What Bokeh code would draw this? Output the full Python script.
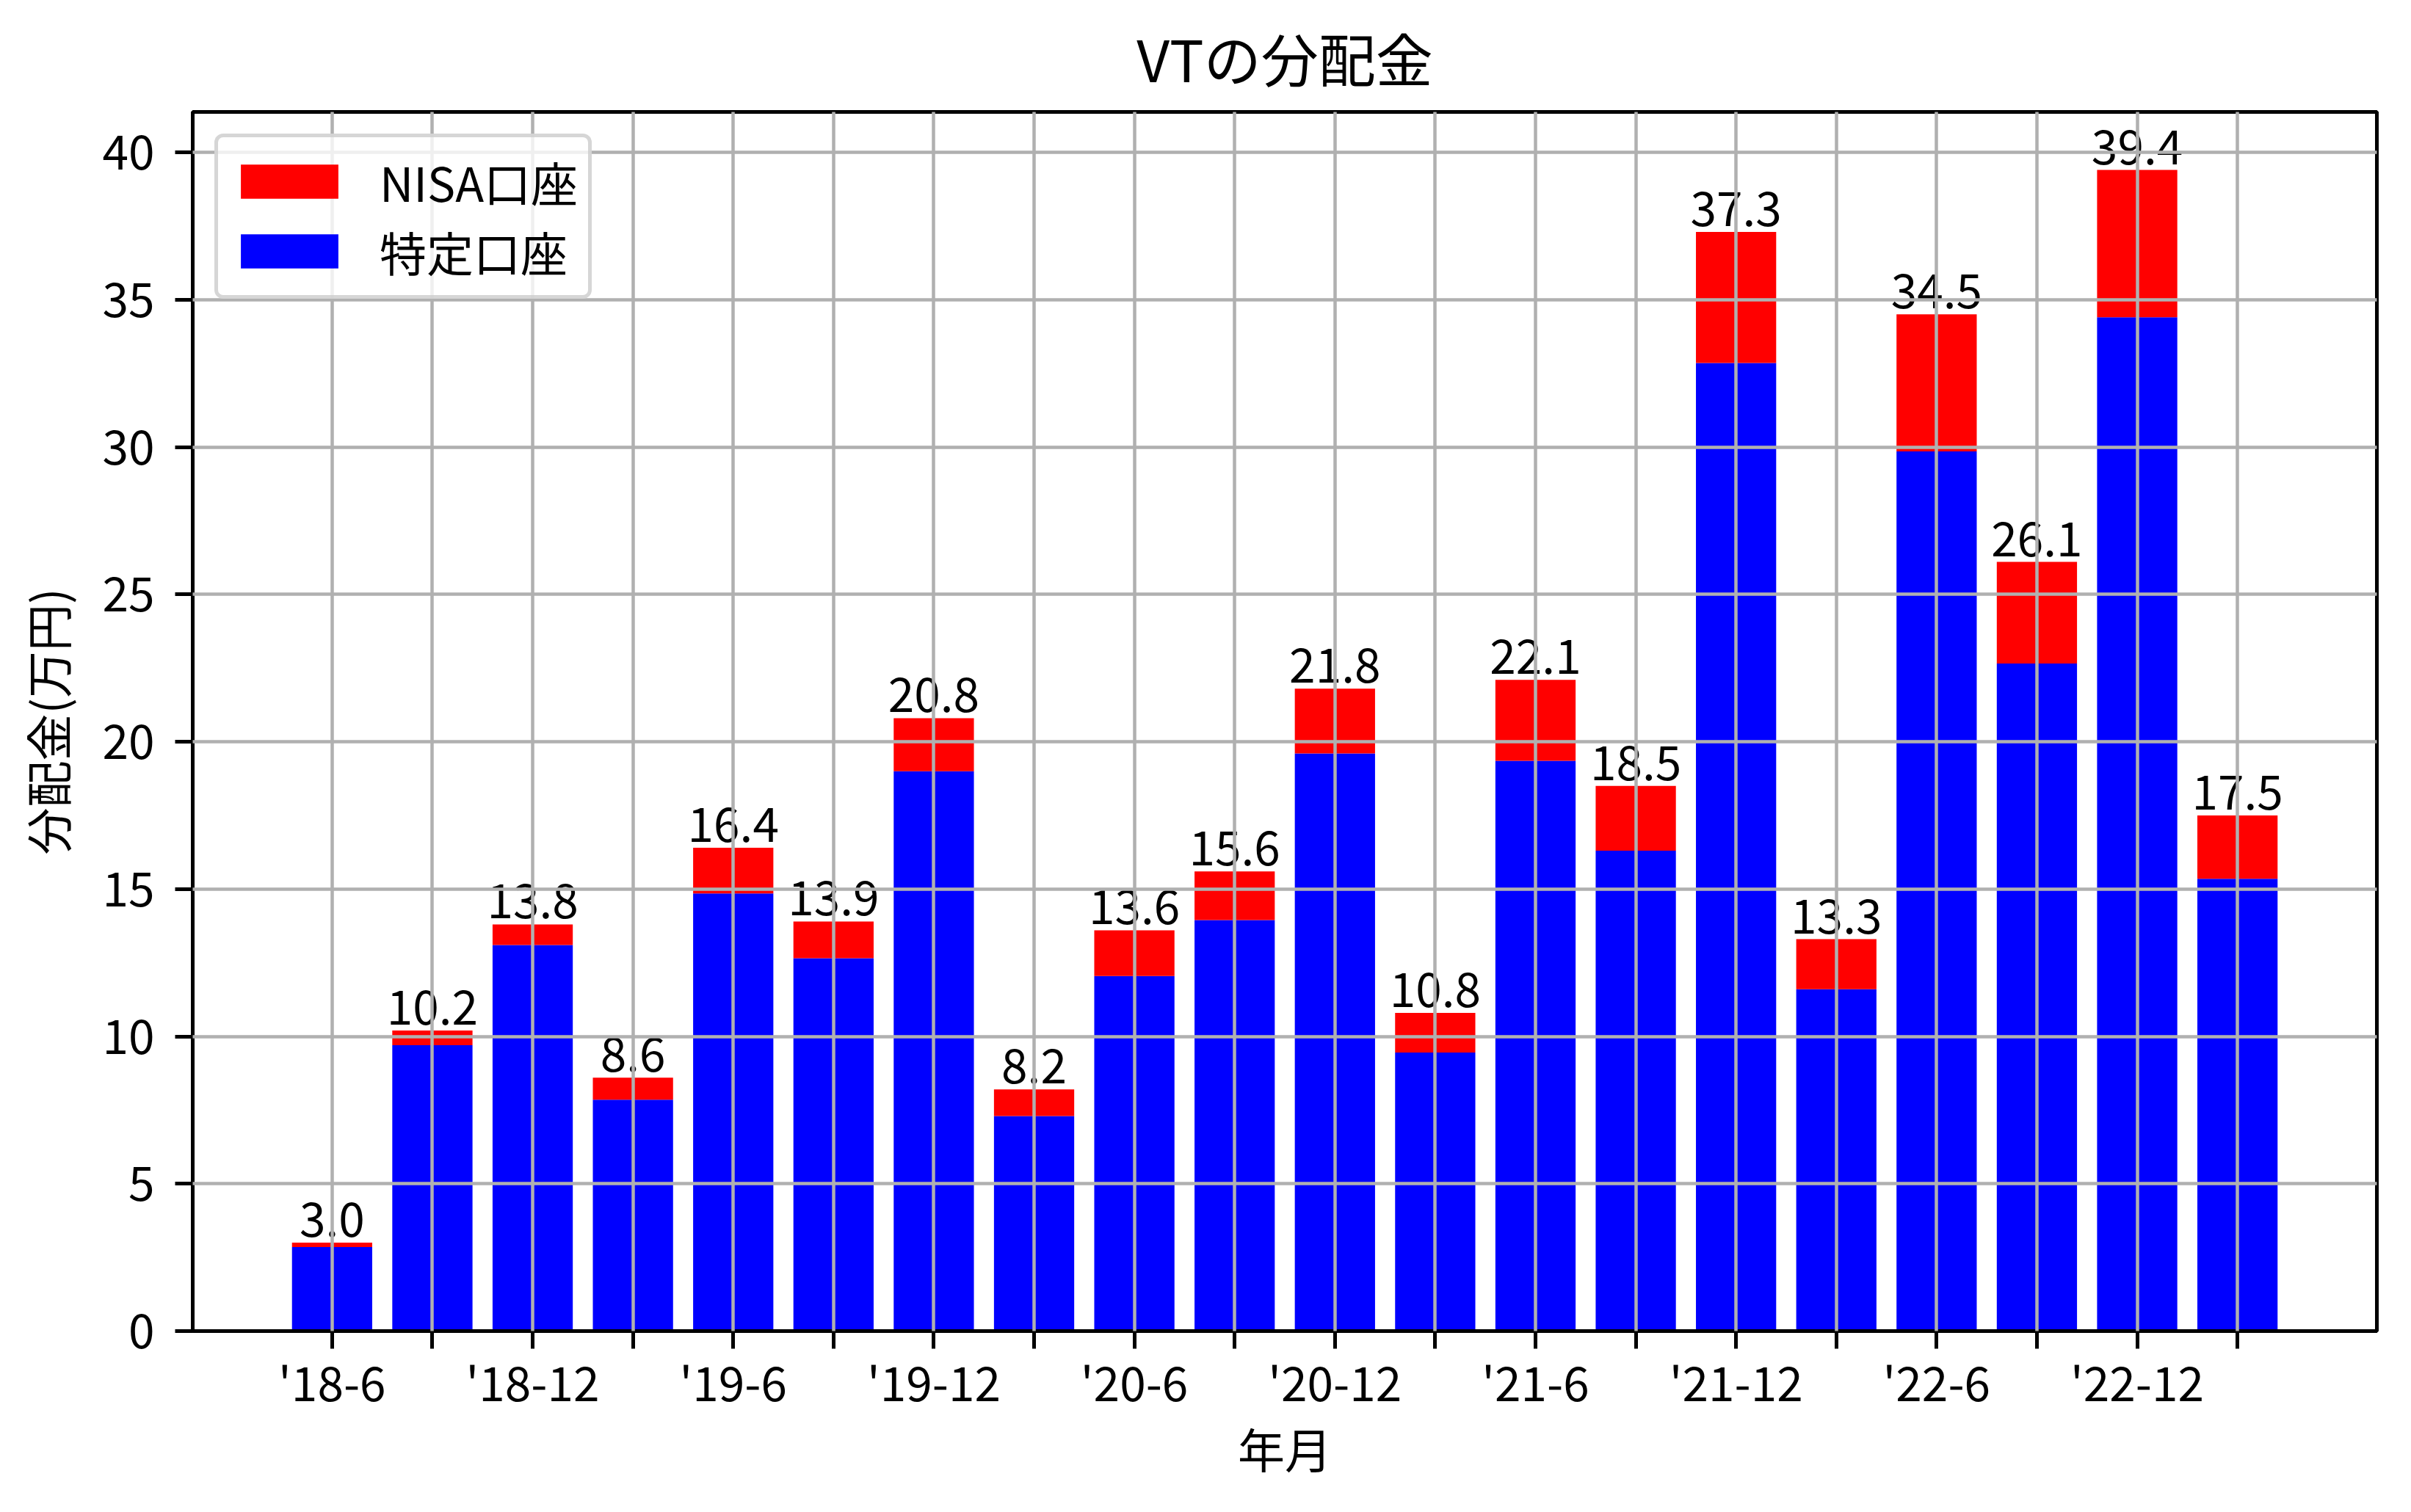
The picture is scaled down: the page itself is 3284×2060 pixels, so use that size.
from bokeh.plotting import figure
from bokeh.models import Range1d, FixedTicker, ColumnDataSource, Legend, LegendItem
from bokeh.embed import file_html
from bokeh.resources import INLINE
from bokeh.core.properties import value

FONT = "Noto Sans CJK JP"

# ---- data ----
months = ["'18-6", "'18-9", "'18-12", "'19-3", "'19-6", "'19-9", "'19-12",
          "'20-3", "'20-6", "'20-9", "'20-12", "'21-3", "'21-6", "'21-9",
          "'21-12", "'22-3", "'22-6", "'22-9", "'22-12", "'23-3"]
tokutei = [2.85, 9.7, 13.1, 7.85, 14.85, 12.65, 19.0, 7.3, 12.05, 13.95,
           19.6, 9.45, 19.35, 16.3, 32.85, 11.6, 29.85, 22.65, 34.4, 15.35]
nisa = [0.15, 0.5, 0.7, 0.75, 1.55, 1.25, 1.8, 0.9, 1.55, 1.65,
        2.2, 1.35, 2.75, 2.2, 4.45, 1.7, 4.65, 3.45, 5.0, 2.15]
tick_labels = ["'18-6", "", "'18-12", "", "'19-6", "", "'19-12", "", "'20-6", "",
               "'20-12", "", "'21-6", "", "'21-12", "", "'22-6", "", "'22-12", ""]
y_ticks = [0, 5, 10, 15, 20, 25, 30, 35, 40]

xs = list(range(len(months)))
totals = [round(a + b, 1) for a, b in zip(tokutei, nisa)]
src = ColumnDataSource(dict(x=xs, tokutei=tokutei, nisa=nisa, total=totals,
                            label=["%.1f" % t for t in totals]))

W, H = 3284, 2060
p = figure(width=W, height=H, output_backend="svg", toolbar_location=None,
           x_range=Range1d(-1.39, 20.39), y_range=Range1d(0, 41.37),
           min_border_left=262, min_border_right=47, min_border_top=149,
           min_border_bottom=247)

p.title.text = "VTの分配金"
p.title.align = "center"
p.title.text_font = FONT
p.title.text_font_size = "78px"
p.title.text_font_style = "normal"
p.title.text_color = "black"
p.title.standoff = 38

r_blue = p.vbar(x="x", bottom=0, top="tokutei", width=0.8, source=src,
                fill_color="#0000ff", line_color=None)
r_red = p.vbar(x="x", bottom="tokutei", top="total", width=0.8, source=src,
               fill_color="#ff0000", line_color=None)

p.text(x="x", y="total", text="label", source=src, y_offset=-8,
       text_font=value(FONT), text_font_size=value("64px"),
       text_align="center", text_baseline="bottom", text_color="black")

# axes
p.xaxis.ticker = FixedTicker(ticks=xs)
p.xaxis.major_label_overrides = {i: lab for i, lab in enumerate(tick_labels)}
p.yaxis.ticker = FixedTicker(ticks=y_ticks)
for ax in (p.xaxis, p.yaxis):
    ax.major_label_text_font = FONT
    ax.major_label_text_font_size = "64px"
    ax.major_label_text_color = "black"
    ax.axis_label_text_font = FONT
    ax.axis_label_text_font_size = "64px"
    ax.axis_label_text_font_style = "normal"
    ax.axis_label_text_color = "black"
    ax.axis_line_width = 5
    ax.axis_line_color = "black"
    ax.major_tick_line_width = 5
    ax.major_tick_line_color = "black"
    ax.major_tick_out = 24
    ax.major_tick_in = 0
    ax.minor_tick_line_color = None
p.xaxis.axis_label = "年月"
p.yaxis.axis_label = "分配金(万円)"
p.xaxis.major_label_standoff = -3
p.xaxis.axis_label_standoff = -4
p.yaxis.major_label_standoff = 28
p.yaxis.axis_label_standoff = 27

p.outline_line_color = "black"
p.outline_line_width = 5
p.outline_line_alpha = 1.0

for g in (p.xgrid, p.ygrid):
    g.grid_line_color = "#b0b0b0"
    g.grid_line_width = 4.5
    g.level = "annotation"
p.xgrid.ticker = FixedTicker(ticks=xs)
p.ygrid.ticker = FixedTicker(ticks=y_ticks)

legend = Legend(items=[LegendItem(label="NISA口座", renderers=[r_red]),
                       LegendItem(label="特定口座", renderers=[r_blue])],
                location="top_left")
legend.margin = 30
legend.padding = 14
legend.spacing = 3
legend.glyph_width = 166
legend.glyph_height = 58
legend.label_standoff = 40
legend.label_text_font = FONT
legend.label_text_font_size = "64px"
legend.label_text_color = "black"
legend.label_height = 64
legend.border_line_color = "#cccccc"
legend.border_line_width = 5
legend.border_line_alpha = 0.8
legend.background_fill_color = "white"
legend.background_fill_alpha = 0.8
if "border_radius" in Legend.properties():
    legend.border_radius = 12
p.add_layout(legend)

p.background_fill_color = "white"
p.border_fill_color = "white"

open("out.html", "w").write(file_html(p, INLINE))
